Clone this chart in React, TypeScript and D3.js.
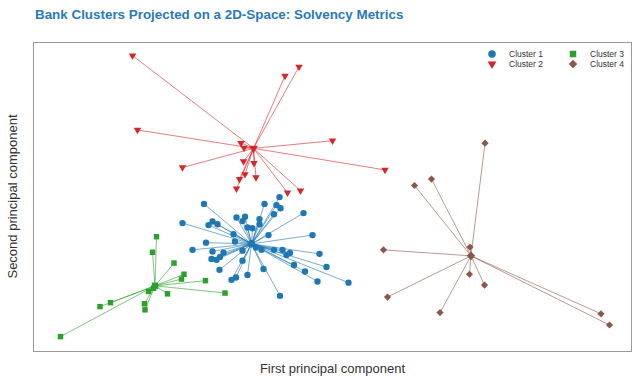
import * as d3 from "d3";

// cluster members in PCA space (pc1, pc2)
const cluster1X = [-0.92, 0.29, 0.59, 0.53, 0.61, 1.07, 0.48, -0.27, -0.1, -0.15, 0.19, 0.19, -1.35, -0.75, -0.83, -0.65, -0.05, 0.05, -0.33, 0.37, 1.25, -0.88, -0.3, -1.15, -0.75, -0.53, -0.15, 0.12, 0.23, 0.48, 0.65, 0.73, 0.8, 1.39, -0.77, -0.67, -0.6, -0.15, 0.88, 1.53, -0.61, 0.27, 1.1, -0.05, -0.28, -0.37, 1.35, 1.97, 0.6];
const cluster1Y = [-0.1, -0.1, 0.07, -0.13, -0.21, -0.33, -0.36, -0.44, -0.42, -0.53, -0.48, -0.61, -0.58, -0.54, -0.63, -0.61, -0.69, -0.71, -0.86, -0.88, -0.88, -1.07, -1.04, -1.25, -1.29, -1.32, -1.27, -1.19, -1.25, -1.25, -1.25, -1.38, -1.33, -1.35, -1.48, -1.5, -1.43, -1.52, -1.63, -1.68, -1.75, -1.73, -1.79, -1.88, -1.94, -2.0, -2.04, -2.07, -2.4];

const cluster2X = [-2.35, 0.98, 0.7, -2.25, -0.18, -0.12, 1.65, 2.7, -1.35, -0.13, 0.08, -0.1, -0.21, 0.12, -0.27, 0.75, 1.01];
const cluster2Y = [3.61, 3.33, 3.1, 1.75, 1.42, 1.3, 1.48, 0.75, 0.81, 0.96, 0.92, 0.64, 0.52, 0.56, 0.28, 0.18, 0.23];

const cluster3X = [-1.87, -1.95, -1.52, -1.32, -1.37, -0.89, -1.93, -2.03, -1.65, -0.5, -2.79, -3.0, -2.11, -2.1, -3.79];
const cluster3Y = [-0.92, -1.31, -1.58, -1.86, -1.98, -2.02, -2.21, -2.29, -2.35, -2.33, -2.57, -2.67, -2.6, -2.75, -3.42];

const cluster4X = [4.7, 3.63, 3.29, 4.4, 2.67, 4.39, 4.69, 2.75, 3.8, 7.02, 7.19];
const cluster4Y = [1.42, 0.52, 0.36, -1.18, -1.25, -1.86, -2.13, -2.43, -2.82, -2.85, -3.13];

const centroidX = [0.03, 0.07, -1.9, 4.42];
const centroidY = [-1.1, 1.29, -2.15, -1.4];

const clusterNames = ["Cluster 1", "Cluster 2", "Cluster 3", "Cluster 4"];
const clusterColors = ["#1f77b4", "#d62728", "#2ca02c", "#8c564b"];

const W = 633;
const H = 379;
const margin = { top: 42, right: 1, bottom: 28, left: 33 };

const font = "'Liberation Sans', Arial, Helvetica, sans-serif";

type Pt = { x: number; y: number };

const clusters: Pt[][] = [
  cluster1X.map((x, i) => ({ x, y: cluster1Y[i] })),
  cluster2X.map((x, i) => ({ x, y: cluster2Y[i] })),
  cluster3X.map((x, i) => ({ x, y: cluster3Y[i] })),
  cluster4X.map((x, i) => ({ x, y: cluster4Y[i] })),
];

// marker per cluster: circle, down triangle, square, diamond
const symbolPath = (k: number, scale = 1) => {
  if (k === 0) return d3.symbol(d3.symbolCircle, 32 * scale)()!;
  if (k === 1) return d3.symbol(d3.symbolTriangle, 24 * scale)()!;
  if (k === 2) return d3.symbol(d3.symbolSquare, 30 * scale)()!;
  return d3.symbol(d3.symbolSquare, 26 * scale)()!;
};
const symbolRotate = (k: number) => (k === 1 ? 180 : k === 3 ? 45 : 0);

export default function App() {
  const innerW = W - margin.left - margin.right;
  const innerH = H - margin.top - margin.bottom;

  const x = d3.scaleLinear().domain([-4.34, 7.64]).range([margin.left, margin.left + innerW]);
  const y = d3.scaleLinear().domain([-3.78, 3.95]).range([margin.top + innerH, margin.top]);

  return (
    <div style={{ position: "fixed", left: 0, top: 0, width: W, height: H, background: "#fff" }}>
      <svg width={W} height={H} style={{ display: "block" }}>
        <rect width={W} height={H} fill="#fff" />

        {/* title */}
        <text x={35} y={19} fill="#2a7ab8" fontFamily={font} fontWeight="bold" fontSize={13.4}>
          Bank Clusters Projected on a 2D-Space: Solvency Metrics
        </text>

        {/* lines to centroids */}
        {clusters.map((pts, k) => (
          <g key={"l" + k} stroke={clusterColors[k]} strokeWidth={1} strokeOpacity={0.6}>
            {pts.map((p, i) => (
              <line key={i} x1={x(centroidX[k])} y1={y(centroidY[k])} x2={x(p.x)} y2={y(p.y)} />
            ))}
          </g>
        ))}

        {/* points */}
        {clusters.map((pts, k) => (
          <g key={"p" + k} fill={clusterColors[k]}>
            {pts.map((p, i) => (
              <path
                key={i}
                d={symbolPath(k)}
                transform={`translate(${x(p.x)},${y(p.y)}) rotate(${symbolRotate(k)})`}
              />
            ))}
            <path
              d={symbolPath(k, 1.4)}
              transform={`translate(${x(centroidX[k])},${y(centroidY[k])}) rotate(${symbolRotate(k)})`}
            />
          </g>
        ))}

        {/* frame */}
        <rect
          x={margin.left + 0.5}
          y={margin.top + 0.5}
          width={innerW - 1}
          height={innerH}
          fill="none"
          stroke="#9a9a9a"
          strokeWidth={1}
        />

        {/* legend */}
        {clusterNames.map((name, k) => {
          const col = Math.floor(k / 2);
          const row = k % 2;
          const mx = 492 + col * 81;
          const my = 54 + row * 10;
          return (
            <g key={name}>
              <path
                d={symbolPath(k, 1.4)}
                fill={clusterColors[k]}
                transform={`translate(${mx},${my}) rotate(${symbolRotate(k)})`}
              />
              <text x={mx + 17} y={my + 3} fontFamily={font} fontSize={8.5} fill="#333">
                {name}
              </text>
            </g>
          );
        })}

        {/* axis labels */}
        <text
          x={margin.left + innerW / 2}
          y={373}
          textAnchor="middle"
          fontFamily={font}
          fontSize={13}
          fill="#333"
        >
          First principal component
        </text>
        <text
          transform={`translate(17,${margin.top + innerH / 2}) rotate(-90)`}
          textAnchor="middle"
          fontFamily={font}
          fontSize={13}
          fill="#333"
        >
          Second principal component
        </text>
      </svg>
    </div>
  );
}
